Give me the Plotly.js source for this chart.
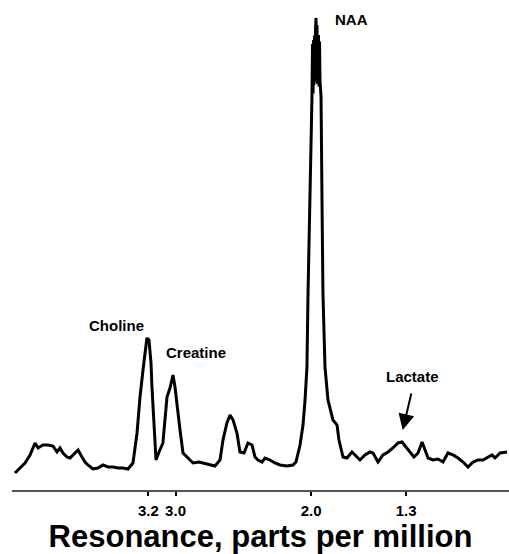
<!DOCTYPE html>
<html>
<head>
<meta charset="utf-8">
<script src="https://cdn.plot.ly/plotly-3.0.1.min.js"></script>
<style>html,body{margin:0;padding:0;background:#fff;}#chart{width:509px;height:554px;}</style>
</head>
<body>
<div id="chart"></div>
<script>
// Chemical shift (ppm)
const ppm = [4.184,4.147,4.110,4.073,4.036,4.014,3.978,3.941,3.904,3.874,3.852,3.830,3.801,3.778,3.756,3.719,3.690,3.668,3.646,3.609,3.572,3.535,3.498,3.461,3.424,3.388,3.351,3.314,3.284,3.262,3.240,3.225,3.211,3.196,3.181,3.174,3.159,3.144,3.122,3.093,3.078,3.063,3.041,3.019,3.004,2.989,2.967,2.945,2.908,2.871,2.827,2.798,2.761,2.709,2.672,2.650,2.621,2.598,2.576,2.547,2.525,2.495,2.466,2.436,2.414,2.392,2.362,2.340,2.304,2.267,2.230,2.178,2.134,2.112,2.082,2.060,2.045,2.031,2.023,2.008,1.994,1.990,1.986,1.982,1.979,1.975,1.972,1.968,1.964,1.961,1.957,1.953,1.950,1.946,1.942,1.938,1.935,1.927,1.920,1.913,1.898,1.876,1.839,1.809,1.795,1.765,1.736,1.699,1.669,1.640,1.603,1.566,1.544,1.507,1.470,1.433,1.397,1.360,1.330,1.301,1.271,1.242,1.212,1.182,1.160,1.138,1.101,1.065,1.028,0.991,0.954,0.917,0.880,0.843,0.806,0.770,0.733,0.696,0.666,0.644,0.607,0.556];
// Signal intensity (arbitrary units, NAA peak = 100)
const intensity = [3.6,4.66,5.72,7.42,9.96,8.90,9.53,9.53,9.32,8.05,8.90,7.84,6.99,6.78,7.42,8.47,6.99,5.93,5.30,4.45,4.66,5.30,4.87,4.87,4.66,4.66,4.45,5.72,12.08,19.70,25.42,29.03,32.20,31.78,26.91,21.82,14.83,6.36,8.05,9.96,14.83,19.70,21.61,24.36,21.82,17.58,12.71,7.84,6.78,5.72,5.93,5.72,5.51,5.08,6.36,10.59,14.19,15.89,14.83,12.08,8.05,7.84,9.96,9.53,6.99,6.36,5.93,6.78,6.36,5.72,5.30,5.08,5.30,5.93,9.53,13.77,19.07,26.06,41.74,61.44,83.26,94.5,84.0,95.34,85.81,96.2,86.5,97.46,100,87.5,98.52,86.0,88.98,96.40,85.5,95.0,86.86,83.26,61.44,41.74,26.06,19.07,14.83,13.77,10.59,6.99,6.78,8.05,7.20,6.36,7.42,8.05,7.84,5.93,7.42,8.05,8.90,9.96,10.17,9.11,7.84,6.99,7.84,10.17,8.47,6.78,6.36,6.57,5.93,7.84,7.42,6.78,5.93,4.87,5.93,6.36,6.36,6.99,7.42,6.78,7.84,8.05];
// Axis ticks
const tickValues = [3.2, 3.0, 2.0, 1.3];
const tickLabels = ['3.2', '3.0', '2.0', '1.3'];
// Peak labels
const peakNames = ['Choline', 'Creatine', 'NAA', 'Lactate'];
const peakLabelX = [3.432, 2.849, 1.699, 1.256];
const peakLabelY = [34.75, 29.03, 99.6, 23.94];
const lactateArrow = {x: 1.325, y: 12.7};

const FONT = 'Liberation Sans, Arial, Helvetica, sans-serif';

const trace = {
  x: ppm, y: intensity, type: 'scatter', mode: 'lines',
  line: {color: '#000', width: 3},
  hoverinfo: 'skip'
};

const annotations = peakNames.map((name, i) => ({
  x: peakLabelX[i], y: peakLabelY[i], xref: 'x', yref: 'y',
  text: name, showarrow: false,
  font: {family: FONT, size: 15, color: '#000', weight: 'bold'}
}));
annotations.push({
  x: lactateArrow.x, y: lactateArrow.y, xref: 'x', yref: 'y',
  text: '', showarrow: true, arrowhead: 2, arrowsize: 1.6, arrowwidth: 2,
  arrowcolor: '#000', ax: 9, ay: -38, standoff: 0
});

const layout = {
  width: 509, height: 554,
  margin: {l: 12, r: 0, t: 0, b: 64},
  paper_bgcolor: '#fff', plot_bgcolor: '#fff',
  showlegend: false,
  xaxis: {
    range: [4.206, 0.541], autorange: false,
    showgrid: false, zeroline: false,
    showline: true, linecolor: '#555', linewidth: 2,
    ticks: 'outside', ticklen: 4, tickwidth: 2, tickcolor: '#000',
    tickvals: tickValues, ticktext: tickLabels,
    ticklabelstandoff: 2,
    tickfont: {family: FONT, size: 15, color: '#000', weight: 'bold'},
    title: {text: 'Resonance, parts per million', standoff: 10,
            font: {family: FONT, size: 31, color: '#000', weight: 'bold'}},
    automargin: false, fixedrange: true
  },
  yaxis: {range: [0, 103.8], autorange: false, visible: false, fixedrange: true},
  annotations: annotations
};

Plotly.newPlot('chart', [trace], layout, {displayModeBar: false, staticPlot: true});
</script>
</body>
</html>
